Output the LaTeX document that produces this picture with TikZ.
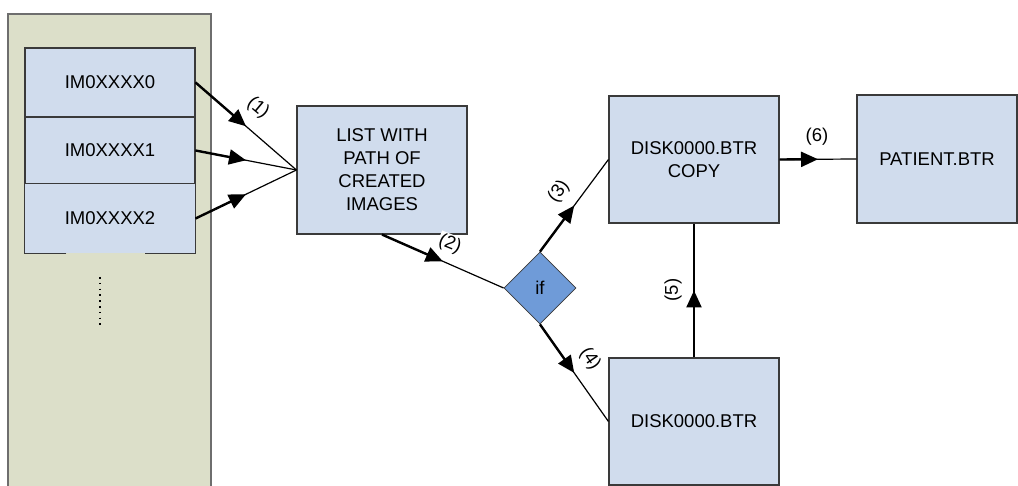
\documentclass[tikz,border=0pt]{standalone}
\usepackage{fontspec}
\setmainfont{Liberation Sans}
\usetikzlibrary{shapes.geometric,arrows.meta,calc}

\definecolor{panelfill}{HTML}{DCDFC9}
\definecolor{panelline}{HTML}{6E6E6E}
\definecolor{boxfill}{HTML}{D0DCED}
\definecolor{boxline}{HTML}{3A3A3A}
\definecolor{decfill}{HTML}{6F9BD8}

\tikzset{
  txt/.style={font=\fontsize{18.5}{23}\selectfont, text=black},
  box/.style={txt, draw=boxline, line width=1.1pt, fill=boxfill,
    inner sep=0pt, align=center},
  decision/.style={txt, diamond, draw=boxline, line width=0.8pt, fill=decfill,
    inner sep=0pt, minimum width=72pt, minimum height=72pt},
  link/.style={line width=1.2pt},
  linkhead/.style={line width=2.4pt, -{Triangle[length=17pt,width=15pt]}},
  tag/.style={txt, inner sep=1pt},
}

\begin{document}
\begin{tikzpicture}[x=1pt, y=-1pt]
  \useasboundingbox (0,0) rectangle (1018,486);
  \clip (0,0) rectangle (1018,486);
  \fill[white] (0,0) rectangle (1018,486);

  % storage column holding the image files
  \draw[panelline, line width=1.4pt, fill=panelfill] (8,495) -- (8,14) -- (211,14) -- (211,495);

  \node[box, minimum width=170pt, minimum height=69pt] (im0) at (110,82.5) {IM0XXXX0};
  \node[box, minimum width=170pt, minimum height=67pt] (im1) at (110,150.5) {IM0XXXX1};
  \node[box, draw=none, minimum width=170pt, minimum height=69pt] (im2) at (110,218.5) {IM0XXXX2};
  \draw[boxline, line width=1.1pt]
    ($(im2.south west)+(42,0)$) -| (im2.north west) -- (im2.north east)
    |- ($(im2.south east)+(-51,0)$);
  \draw[black, line width=1.6pt, dash pattern=on 1.6pt off 4.2pt] (100,277) -- (100,328);

  % processing chain
  \node[box, minimum width=170pt, minimum height=128pt] (list) at (382,170)
    {LIST WITH\\PATH OF\\CREATED\\IMAGES};
  \node[decision] (if) at (540,288) {if};
  \node[box, minimum width=170pt, minimum height=127pt] (copy) at (694,159.5)
    {DISK0000.BTR\\COPY};
  \node[box, minimum width=170pt, minimum height=127pt] (disk) at (694,421.5)
    {DISK0000.BTR};
  \node[box, minimum width=160pt, minimum height=128pt] (patient) at (937,159)
    {PATIENT.BTR};

  % connectors: thin full line, heavy first half ending in the arrow tip
  \foreach \a/\b in {im0.east/list.west, im1.east/list.west, im2.east/list.west,
                     list.south/if.west, if.north/copy.west, if.south/disk.west,
                     disk.north/copy.south, copy.east/patient.west}{
    \draw[link] (\a) -- (\b);
    \draw[linkhead] (\a) -- ($(\a)!0.5!(\b)$);
  }

  % step labels
  \node[tag, rotate=-40] (t1) at (258,108) {(1)};
  \node[tag, fill=white, rotate=-22] (t2) at (450,244) {(2)};
  \node[tag, rotate=54] (t3) at (559,192) {(3)};
  \node[tag, rotate=-56] (t4) at (590,359) {(4)};
  \node[tag, rotate=90] (t5) at (673,290) {(5)};
  \node[tag] (t6) at (817,137) {(6)};
\end{tikzpicture}
\end{document}
